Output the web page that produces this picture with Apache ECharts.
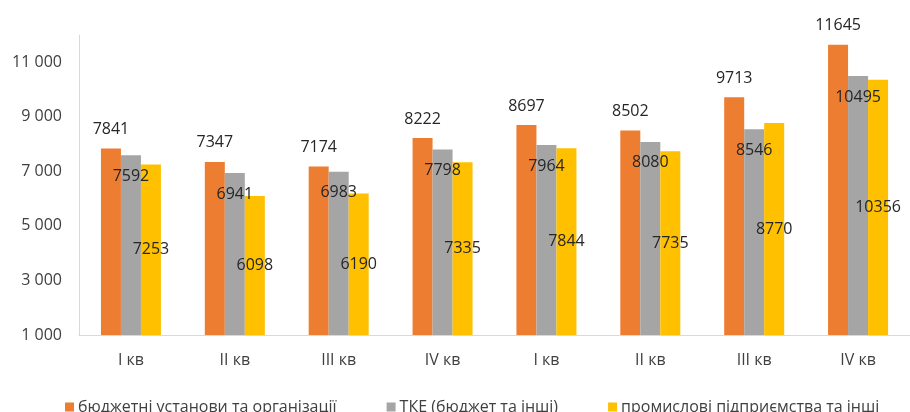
<!DOCTYPE html>
<html>
<head>
<meta charset="utf-8">
<script src="https://cdn.jsdelivr.net/npm/echarts@6/dist/echarts.min.js"></script>
<style>
  html, body { margin: 0; padding: 0; background: #fff; }
  #chart { width: 910px; height: 412px; }
</style>
</head>
<body>
<div id="chart"></div>
<script>
// quarters
const categories = ['I кв', 'II кв', 'III кв', 'IV кв', 'I кв', 'II кв', 'III кв', 'IV кв']
const seriesNames = ['бюджетні установи та організації', 'ТКЕ (бюджет та інші)', 'промислові підприємства та інші']
const budgetData = [7841, 7347, 7174, 8222, 8697, 8502, 9713, 11645]
const tkeData = [7592, 6941, 6983, 7798, 7964, 8080, 8546, 10495]
const industryData = [7253, 6098, 6190, 7335, 7844, 7735, 8770, 10356]

const font = 'Open Sans'
const fmt = v => String(v).replace(/\B(?=(\d{3})+(?!\d))/g, ' ')

const chart = echarts.init(document.getElementById('chart'), null, { renderer: 'canvas' })

const labelStyle = {
  show: true,
  color: '#262626',
  fontFamily: font,
  fontSize: 16
}

chart.setOption({
  animation: false,
  color: ['#ED7D31', '#A5A5A5', '#FFC000'],
  grid: {
    left: 79,
    top: 35,
    width: 839,
    bottom: 77
  },
  legend: {
    left: 60,
    top: 394,
    itemWidth: 9,
    itemHeight: 9,
    itemGap: 50,
    icon: 'rect',
    textStyle: {
      color: '#404040',
      fontFamily: font,
      fontSize: 16,
      padding: [0, 0, 0, -1]
    },
    data: seriesNames
  },
  xAxis: {
    type: 'category',
    data: categories,
    axisLine: { lineStyle: { color: '#D9D9D9', width: 1 } },
    axisTick: { show: false },
    axisLabel: {
      color: '#404040',
      fontFamily: font,
      fontSize: 16,
      margin: 17
    }
  },
  yAxis: {
    type: 'value',
    min: 1000,
    max: 12000,
    interval: 1000,
    axisLine: { show: true, lineStyle: { color: '#D9D9D9', width: 1 } },
    axisTick: { show: false },
    splitLine: { show: false },
    axisLabel: {
      color: '#404040',
      fontFamily: font,
      fontSize: 16,
      margin: 17,
      formatter: function(value) {
        return value % 2000 === 1000 ? fmt(value) : ''
      }
    }
  },
  series: [
    {
      name: seriesNames[0],
      type: 'bar',
      barWidth: 20,
      barGap: '0%',
      data: budgetData,
      label: Object.assign({}, labelStyle, { position: 'top', distance: 11 })
    },
    {
      name: seriesNames[1],
      type: 'bar',
      barWidth: 20,
      barGap: '0%',
      data: tkeData,
      label: Object.assign({}, labelStyle, { position: 'insideTop', distance: 13 })
    },
    {
      name: seriesNames[2],
      type: 'bar',
      barWidth: 20,
      barGap: '0%',
      data: industryData,
      label: Object.assign({}, labelStyle, { position: 'inside' })
    }
  ]
})
</script>
</body>
</html>
